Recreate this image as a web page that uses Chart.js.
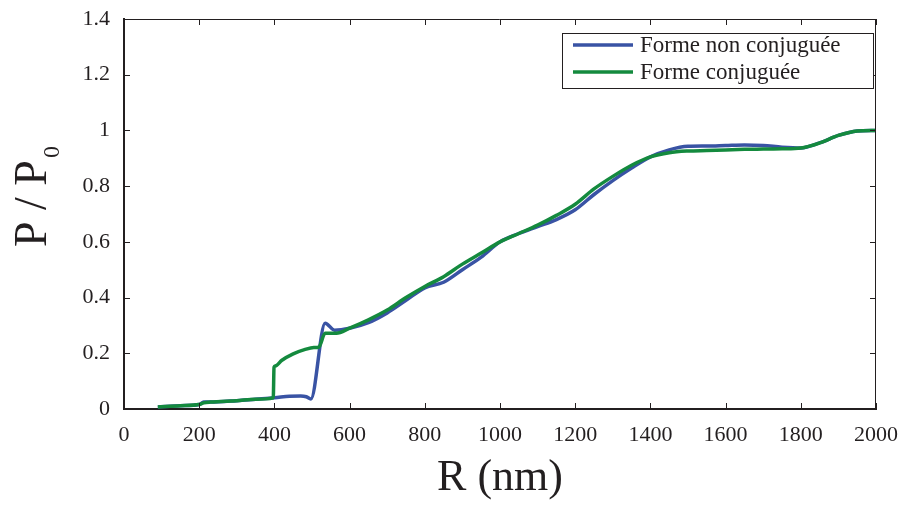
<!DOCTYPE html>
<html>
<head>
<meta charset="utf-8">
<script src="https://cdn.jsdelivr.net/npm/chart.js@4/dist/chart.umd.min.js"></script>
<style>
  html, body { margin: 0; padding: 0; background: #fff; }
  #wrap { width: 919px; height: 505px; position: relative; }
</style>
</head>
<body>
<div id="wrap"><canvas id="chart"></canvas></div>
<script>
// --- data ---
const seriesLabels = ["Forme non conjuguée", "Forme conjuguée"];

// Forme non conjuguée (blue)
const rBlue = [90, 150, 200, 212, 230, 300, 350, 400, 440, 470, 485, 497, 535, 560, 600,
  650, 700, 750, 800, 850, 900, 950, 1000, 1050, 1100, 1150, 1200, 1250, 1300, 1350,
  1400, 1450, 1500, 1550, 1600, 1650, 1700, 1750, 1800, 1850, 1900, 1950, 2000];
const pBlue = [0.007, 0.012, 0.016, 0.025, 0.025, 0.030, 0.035, 0.040, 0.046, 0.047, 0.044, 0.036, 0.308, 0.283, 0.290,
  0.310, 0.345, 0.390, 0.435, 0.455, 0.500, 0.545, 0.600, 0.630, 0.655, 0.680, 0.715, 0.770, 0.820, 0.865,
  0.905, 0.930, 0.943, 0.944, 0.946, 0.948, 0.946, 0.940, 0.937, 0.955, 0.982, 0.998, 1.000];

// Forme conjuguée (green)
const rGreen = [90, 150, 200, 212, 230, 300, 350, 397, 399, 402, 420, 450, 480, 505, 518, 535,
  565, 600, 650, 700, 750, 800, 850, 900, 950, 1000, 1050, 1100, 1150, 1200, 1250,
  1300, 1350, 1400, 1450, 1500, 1550, 1600, 1650, 1700, 1750, 1800, 1850, 1900, 1950, 2000];
const pGreen = [0.007, 0.012, 0.016, 0.022, 0.025, 0.030, 0.035, 0.040, 0.150, 0.154, 0.175, 0.198, 0.213, 0.221, 0.222, 0.272,
  0.272, 0.290, 0.320, 0.355, 0.400, 0.440, 0.475, 0.520, 0.560, 0.600, 0.630, 0.660, 0.695, 0.735, 0.790,
  0.835, 0.875, 0.905, 0.920, 0.926, 0.928, 0.930, 0.932, 0.933, 0.934, 0.937, 0.955, 0.982, 0.998, 1.000];

const xTicks = [0, 200, 400, 600, 800, 1000, 1200, 1400, 1600, 1800, 2000];
const yTicks = [0, 0.2, 0.4, 0.6, 0.8, 1, 1.2, 1.4];

const BLUE = '#3953a4';
const GREEN = '#148a3e';
const INK = '#231f20';
const SERIF = '"Liberation Serif", "DejaVu Serif", serif';

const toPoints = (xs, ys) => xs.map((x, i) => ({ x: x, y: ys[i] }));

// frame, inward ticks, y title with subscript, boxed legend
const decorations = {
  id: 'decorations',
  afterDraw(chart) {
    const { ctx, chartArea: a, scales } = chart;
    const sx = scales.x, sy = scales.y;
    ctx.save();
    ctx.strokeStyle = INK;

    // top and right edges
    ctx.lineWidth = 1;
    ctx.beginPath();
    ctx.moveTo(a.left, a.top + 0.5);
    ctx.lineTo(a.right - 0.5, a.top + 0.5);
    ctx.lineTo(a.right - 0.5, a.bottom);
    ctx.stroke();

    // inward tick marks on all four sides
    const len = 6;
    ctx.beginPath();
    xTicks.forEach(v => {
      const px = Math.round(sx.getPixelForValue(v)) + 0.5;
      ctx.moveTo(px, a.bottom); ctx.lineTo(px, a.bottom - len);
      ctx.moveTo(px, a.top); ctx.lineTo(px, a.top + len);
    });
    yTicks.forEach(v => {
      const py = Math.round(sy.getPixelForValue(v)) + 0.5;
      ctx.moveTo(a.left, py); ctx.lineTo(a.left + len, py);
      ctx.moveTo(a.right, py); ctx.lineTo(a.right - len, py);
    });
    ctx.stroke();

    // y axis title: P / P0
    ctx.fillStyle = INK;
    ctx.translate(46, 247);
    ctx.rotate(-Math.PI / 2);
    ctx.textAlign = 'left';
    ctx.textBaseline = 'alphabetic';
    ctx.font = '46px ' + SERIF;
    const main = 'P / P';
    ctx.fillText(main, 0, 0);
    const w = ctx.measureText(main).width;
    ctx.font = '24px ' + SERIF;
    ctx.fillText('0', w + 2, 13);
    ctx.setTransform(1, 0, 0, 1, 0, 0);

    // legend box
    const box = { l: 562, t: 33, r: 873, b: 88 };
    ctx.fillStyle = '#fff';
    ctx.fillRect(box.l, box.t, box.r - box.l, box.b - box.t);
    ctx.lineWidth = 1;
    ctx.strokeRect(box.l + 0.5, box.t + 0.5, box.r - box.l, box.b - box.t);
    const rows = [45, 72];
    ctx.font = '23px ' + SERIF;
    ctx.textBaseline = 'middle';
    chart.data.datasets.forEach((ds, i) => {
      const yRow = rows[i];
      ctx.strokeStyle = ds.borderColor;
      ctx.lineWidth = 3.5;
      ctx.beginPath();
      ctx.moveTo(573, yRow);
      ctx.lineTo(633, yRow);
      ctx.stroke();
      ctx.fillStyle = INK;
      ctx.fillText(ds.label, 640, yRow + 1);
    });
    ctx.restore();
  }
};

const chart = new Chart(document.getElementById('chart'), {
  type: 'line',
  data: {
    datasets: [
      {
        label: seriesLabels[0],
        data: toPoints(rBlue, pBlue),
        borderColor: BLUE,
        borderWidth: 3.5,
        pointRadius: 0,
        cubicInterpolationMode: 'monotone',
        order: 1
      },
      {
        label: seriesLabels[1],
        data: toPoints(rGreen, pGreen),
        borderColor: GREEN,
        borderWidth: 3.5,
        pointRadius: 0,
        cubicInterpolationMode: 'monotone',
        order: 0
      }
    ]
  },
  options: {
    responsive: true,
    maintainAspectRatio: false,
    animation: false,
    layout: { padding: { top: 19, right: 43, left: 0, bottom: 0 } },
    plugins: {
      legend: { display: false },
      tooltip: { enabled: false }
    },
    scales: {
      x: {
        type: 'linear',
        min: 0,
        max: 2000,
        afterFit: s => { s.height = 96; s.paddingLeft = 0; s.paddingRight = 0; },
        afterBuildTicks: s => { s.ticks = xTicks.map(v => ({ value: v })); },
        grid: { display: true, drawOnChartArea: false, drawTicks: false },
        border: { display: true, color: INK, width: 2 },
        ticks: {
          color: INK,
          padding: 13,
          maxRotation: 0,
          autoSkip: false,
          font: { family: SERIF, size: 22 },
          callback: v => String(v)
        },
        title: {
          display: true,
          text: 'R (nm)',
          color: INK,
          padding: 0,
          font: { family: SERIF, size: 44 }
        }
      },
      y: {
        min: 0,
        max: 1.4,
        afterFit: s => { s.width = 124; s.paddingTop = 0; s.paddingBottom = 0; },
        afterBuildTicks: s => { s.ticks = yTicks.map(v => ({ value: v })); },
        grid: { display: true, drawOnChartArea: false, drawTicks: false },
        border: { display: true, color: INK, width: 2 },
        ticks: {
          color: INK,
          padding: 14,
          autoSkip: false,
          font: { family: SERIF, size: 22 },
          callback: v => String(Number(v.toFixed(1)))
        }
      }
    }
  },
  plugins: [decorations]
});
</script>
</body>
</html>
